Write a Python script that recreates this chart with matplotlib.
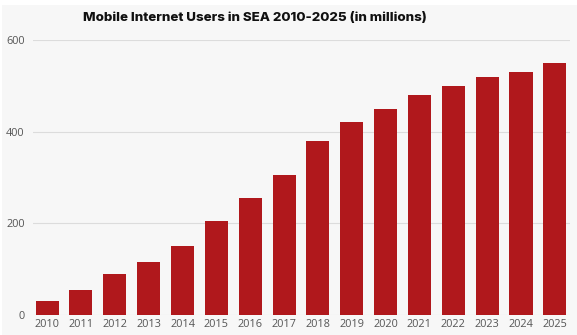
import matplotlib.pyplot as plt
from matplotlib.patches import Rectangle

# data
years = [str(y) for y in range(2010, 2026)]
users = [30, 55, 90, 115, 150, 205, 255, 305, 380, 420, 450, 480, 500, 520, 530, 550]
y_ticks = [0, 200, 400, 600]

bg = '#f7f7f7'
bar_color = '#b0181c'

fig = plt.figure(figsize=(5.77, 3.35), dpi=100, facecolor='white')
fig.patches.append(Rectangle((0.004, 0), 0.996, 0.985, transform=fig.transFigure,
                             facecolor=bg, edgecolor='none', zorder=-10))

ax = fig.add_axes([0.057, 0.0597, 0.931, 0.821])
ax.set_facecolor(bg)

x = range(len(years))
ax.bar(x, users, width=0.68, color=bar_color, zorder=3)

ax.set_xlim(-0.42, 15.45)
ax.set_ylim(0, 600)
ax.set_yticks(y_ticks)
ax.set_xticks(list(x))
ax.set_xticklabels(years)

ax.grid(axis='y', color='#dcdcdc', linewidth=0.8, zorder=0)
for side in ['top', 'right', 'left', 'bottom']:
    ax.spines[side].set_visible(False)
ax.tick_params(axis='both', length=0, labelsize=7.8, labelcolor='#555555')
ax.tick_params(axis='x', pad=3)
ax.tick_params(axis='y', pad=6)
for lbl in ax.get_xticklabels() + ax.get_yticklabels():
    lbl.set_fontfamily('Open Sans')

fig.text(0.442, 0.945, 'Mobile Internet Users in SEA 2010-2025 (in millions)',
         ha='center', va='center', fontsize=9.6, fontweight='heavy',
         fontfamily='Inter', color='#111111')

fig.savefig('out.png', dpi=100, facecolor=fig.get_facecolor())
